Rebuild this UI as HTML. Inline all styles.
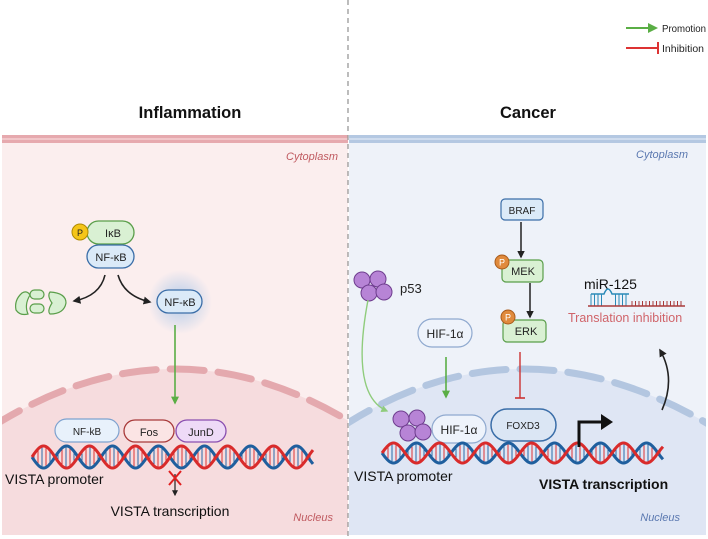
<!DOCTYPE html>
<html><head><meta charset="utf-8"><style>
html,body{margin:0;padding:0;background:#fff}
svg{display:block}
text{font-family:"Liberation Sans",sans-serif}
</style></head><body>
<svg id="s" width="708" height="539" viewBox="0 0 708 539" xmlns="http://www.w3.org/2000/svg">
<defs>
<marker id="ag" viewBox="0 0 10 10" refX="8" refY="5" markerWidth="5" markerHeight="5" orient="auto"><path d="M0,0L10,5L0,10z" fill="#5aae45"/></marker>
<marker id="agl" viewBox="0 0 10 10" refX="8" refY="5" markerWidth="5" markerHeight="5" orient="auto"><path d="M0,0L10,5L0,10z" fill="#8fcc7c"/></marker>
<marker id="ak" viewBox="0 0 10 10" refX="8" refY="5" markerWidth="5" markerHeight="5" orient="auto"><path d="M0,0L10,5L0,10z" fill="#222"/></marker>
<radialGradient id="glow"><stop offset="0" stop-color="#a9c6e8" stop-opacity=".9"/><stop offset="1" stop-color="#a9c6e8" stop-opacity="0"/></radialGradient>
<clipPath id="cl"><rect x="2" y="135" width="346" height="400"/></clipPath>
<clipPath id="cr"><rect x="349" y="135" width="357" height="400"/></clipPath>
</defs>

<rect x="2" y="135" width="346" height="400" fill="#fbeeee"/>
<g clip-path="url(#cl)">
<path d="M-10,428 Q175,310 360,428 L360,540 L-10,540z" fill="#f6dcde"/>
<path d="M-10,428 Q175,310 360,428" fill="none" stroke="#e4a9ae" stroke-width="7" stroke-linecap="round" stroke-dasharray="34 14"/>
</g>
<rect x="2" y="135" width="346" height="8" fill="#e6a9ae"/>
<rect x="2" y="138" width="346" height="2" fill="#f1c6c9"/>

<rect x="349" y="135" width="357" height="400" fill="#eef2f9"/>
<g clip-path="url(#cr)">
<path d="M340,428 Q520,310 715,428 L715,540 L340,540z" fill="#dfe6f4"/>
<path d="M340,428 Q520,310 715,428" fill="none" stroke="#b3c6e0" stroke-width="7" stroke-linecap="round" stroke-dasharray="34 14"/>
</g>
<rect x="349" y="135" width="357" height="8" fill="#b4c8e2"/>
<rect x="349" y="138" width="357" height="2" fill="#cfdcee"/>

<line x1="348" y1="0" x2="348" y2="539" stroke="#999" stroke-width="1.3" stroke-dasharray="5 4"/>

<line x1="626" y1="28" x2="656" y2="28" stroke="#5aae45" stroke-width="2" marker-end="url(#ag)"/>
<text x="662" y="32" font-size="10.5" fill="#222" textLength="44" lengthAdjust="spacingAndGlyphs">Promotion</text>
<line x1="626" y1="48" x2="658" y2="48" stroke="#d33" stroke-width="2"/>
<line x1="658" y1="42" x2="658" y2="54" stroke="#d33" stroke-width="2"/>
<text x="662" y="52" font-size="10.5" fill="#222" textLength="42" lengthAdjust="spacingAndGlyphs">Inhibition</text>

<text x="190" y="118" font-size="16.5" font-weight="bold" text-anchor="middle" fill="#111">Inflammation</text>
<text x="528" y="118" font-size="16.5" font-weight="bold" text-anchor="middle" fill="#111">Cancer</text>

<text x="338" y="160" font-size="11" font-style="italic" text-anchor="end" fill="#c05a60">Cytoplasm</text>
<text x="333" y="521" font-size="11" font-style="italic" text-anchor="end" fill="#c05a60">Nucleus</text>
<text x="688" y="158" font-size="11" font-style="italic" text-anchor="end" fill="#5a78b0">Cytoplasm</text>
<text x="680" y="521" font-size="11" font-style="italic" text-anchor="end" fill="#5a78b0">Nucleus</text>

<rect x="87" y="221" width="47" height="23" rx="11.5" fill="#d9f0d3" stroke="#5a9e4a" stroke-width="1.3"/>
<text x="113" y="237" font-size="11" text-anchor="middle" fill="#222">IκB</text>
<circle cx="80" cy="232" r="8" fill="#f5c518" stroke="#b08a00"/>
<text x="80" y="236" font-size="9" text-anchor="middle" fill="#222">P</text>
<rect x="87" y="245" width="47" height="23" rx="11.5" fill="#dbeaf8" stroke="#3b6ea8" stroke-width="1.3"/>
<text x="111" y="261" font-size="11" text-anchor="middle" fill="#222">NF-κB</text>
<path d="M105,275 Q100,296 74,301" fill="none" stroke="#222" stroke-width="1.6" marker-end="url(#ak)"/>
<path d="M118,275 Q124,296 150,302" fill="none" stroke="#222" stroke-width="1.6" marker-end="url(#ak)"/>
<path d="M22,293 Q14,300 16,310 Q20,316 28,314 Q24,305 30,295 Q27,290 22,293z" fill="#d9f0d3" stroke="#5a9e4a" stroke-width="1.2"/>
<rect x="30" y="290" width="14" height="9" rx="4.5" fill="#d9f0d3" stroke="#5a9e4a" stroke-width="1.2"/>
<rect x="30" y="304" width="14" height="9" rx="4.5" fill="#d9f0d3" stroke="#5a9e4a" stroke-width="1.2"/>
<path d="M50,292 Q66,293 66,303 Q64,314 50,314 Q47,311 52,303 Q47,296 50,292z" fill="#d9f0d3" stroke="#5a9e4a" stroke-width="1.2"/>
<circle cx="180" cy="302" r="32" fill="url(#glow)"/>
<rect x="157" y="290" width="45" height="23" rx="11.5" fill="#dbeaf8" stroke="#3b6ea8" stroke-width="1.3"/>
<text x="180" y="306" font-size="11" text-anchor="middle" fill="#222">NF-κB</text>
<line x1="175" y1="325" x2="175" y2="403" stroke="#5aae45" stroke-width="1.6" marker-end="url(#ag)"/>
<rect x="55" y="419" width="64" height="23" rx="11.5" fill="#e8f1fb" stroke="#7ea2cf" stroke-width="1.2"/>
<text x="87" y="435" font-size="10" text-anchor="middle" fill="#222">NF-kB</text>
<rect x="124" y="420" width="50" height="22" rx="11" fill="#fbe4e4" stroke="#a83a3a" stroke-width="1.3"/>
<text x="149" y="436" font-size="11" text-anchor="middle" fill="#222">Fos</text>
<rect x="176" y="420" width="50" height="22" rx="11" fill="#eedaf7" stroke="#8a4fb0" stroke-width="1.3"/>
<text x="201" y="436" font-size="11" text-anchor="middle" fill="#222">JunD</text>
<g id="dnaL"></g>
<text x="5" y="484" font-size="14" fill="#111">VISTA promoter</text>
<line x1="175" y1="474" x2="175" y2="495" stroke="#222" stroke-width="1.2" marker-end="url(#ak)"/>
<path d="M169,471L181,485M181,471L169,485" stroke="#e02020" stroke-width="2"/>
<text x="170" y="516" font-size="14" text-anchor="middle" fill="#111">VISTA transcription</text>

<rect x="501" y="199" width="42" height="21" rx="4" fill="#dbeaf8" stroke="#3b6ea8" stroke-width="1.2"/>
<text x="522" y="214" font-size="10" text-anchor="middle" fill="#222">BRAF</text>
<line x1="521" y1="222" x2="521" y2="257" stroke="#222" stroke-width="1.5" marker-end="url(#ak)"/>
<rect x="502" y="260" width="41" height="22" rx="4" fill="#d9f0d3" stroke="#5a9e4a" stroke-width="1.2"/>
<text x="523" y="275" font-size="11" text-anchor="middle" fill="#222">MEK</text>
<circle cx="502" cy="262" r="7" fill="#e08a3c" stroke="#a85a1a"/>
<text x="502" y="265.5" font-size="9" text-anchor="middle" fill="#fff">P</text>
<line x1="530" y1="283" x2="530" y2="317" stroke="#222" stroke-width="1.5" marker-end="url(#ak)"/>
<rect x="503" y="320" width="43" height="22" rx="4" fill="#d9f0d3" stroke="#5a9e4a" stroke-width="1.2"/>
<text x="526" y="335" font-size="11" text-anchor="middle" fill="#222">ERK</text>
<circle cx="508" cy="317" r="7" fill="#e08a3c" stroke="#a85a1a"/>
<text x="508" y="320.5" font-size="9" text-anchor="middle" fill="#fff">P</text>
<line x1="520" y1="352" x2="520" y2="398" stroke="#c33" stroke-width="1.4"/>
<line x1="515" y1="398" x2="525" y2="398" stroke="#c33" stroke-width="1.6"/>

<g fill="#b784d6" stroke="#6e3d8e" stroke-width="1">
<circle cx="362" cy="280" r="8"/><circle cx="378" cy="279" r="8"/><circle cx="369" cy="293" r="8"/><circle cx="384" cy="292" r="8"/>
</g>
<text x="400" y="293" font-size="13" fill="#222">p53</text>
<path d="M368,300 Q350,395 387,411" fill="none" stroke="#8fcc7c" stroke-width="1.4" marker-end="url(#agl)"/>
<rect x="418" y="319" width="54" height="28" rx="14" fill="#eef3fb" stroke="#8fa9cf" stroke-width="1.2"/>
<text x="445" y="338" font-size="12" text-anchor="middle" fill="#222">HIF-1α</text>
<line x1="446" y1="357" x2="446" y2="397" stroke="#5aae45" stroke-width="1.6" marker-end="url(#ag)"/>
<g fill="#b784d6" stroke="#6e3d8e" stroke-width="1">
<circle cx="401" cy="419" r="8"/><circle cx="417" cy="418" r="8"/><circle cx="408" cy="433" r="8"/><circle cx="423" cy="432" r="8"/>
</g>
<rect x="432" y="415" width="54" height="28" rx="14" fill="#eef3fb" stroke="#8fa9cf" stroke-width="1.2"/>
<text x="459" y="434" font-size="12" text-anchor="middle" fill="#222">HIF-1α</text>
<rect x="491" y="409" width="65" height="32" rx="16" fill="#dbe6f4" stroke="#3b6ea8" stroke-width="1.5"/>
<text x="523" y="429" font-size="10" text-anchor="middle" fill="#222">FOXD3</text>
<g id="dnaR"></g>
<path d="M579,447 L579,422 L603,422" fill="none" stroke="#111" stroke-width="3"/>
<path d="M601,414 L613,422 L601,430z" fill="#111"/>
<text x="354" y="481" font-size="14" fill="#111">VISTA promoter</text>
<text x="539" y="489" font-size="14" font-weight="bold" fill="#111">VISTA transcription</text>
<path d="M662,410 Q676,378 660,350" fill="none" stroke="#222" stroke-width="1.6" marker-end="url(#ak)"/>

<text x="584" y="289" font-size="14" fill="#111">miR-125</text>
<g id="rna"></g>
<line x1="588" y1="306" x2="685" y2="306" stroke="#a83a3a" stroke-width="1.6"/>
<text x="568" y="322" font-size="12.5" fill="#d0646a">Translation inhibition</text>
</svg>
<script>
var NS="http://www.w3.org/2000/svg";
function dna(g,x0,x1,yc,amp){
  var el=document.getElementById(g),per=46,i=0;
  for(var x=x0+2;x<=x1;x+=4){
    var a=Math.sin((x-x0)/per*2*Math.PI)*amp;
    var l=document.createElementNS(NS,"line");
    l.setAttribute("x1",x);l.setAttribute("x2",x);l.setAttribute("y1",yc+a);l.setAttribute("y2",yc-a);
    l.setAttribute("stroke",(i++%2)?"#d33":"#2a6aa8");l.setAttribute("stroke-width","1");
    el.appendChild(l);
  }
  ["#1f5f9e","#d92b2b"].forEach(function(c,k){
    var d="";for(var x=x0;x<=x1;x+=1){var y=yc+(k?-1:1)*Math.sin((x-x0)/per*2*Math.PI)*amp;d+=(x==x0?"M":"L")+x+","+y.toFixed(1);}
    var p=document.createElementNS(NS,"path");p.setAttribute("d",d);p.setAttribute("fill","none");p.setAttribute("stroke",c);p.setAttribute("stroke-width","3");el.appendChild(p);
  });
}
dna("dnaL",32,313,457,11);
dna("dnaR",382,663,453,10);
var r=document.getElementById("rna");
var h='<path d="M591,294 L604,294 Q608,284 612,294 L629,294" fill="none" stroke="#2a8ab8" stroke-width="1.5"/>';
for(var x=591;x<=629;x+=3.5){ if(x>603&&x<613)continue; h+='<line x1="'+x+'" y1="294" x2="'+x+'" y2="306" stroke="#2a8ab8" stroke-width="1"/>';}
for(var x=632;x<=684;x+=3.5){ h+='<line x1="'+x+'" y1="301" x2="'+x+'" y2="306" stroke="#a83a3a" stroke-width="1"/>';}
r.innerHTML=h;
</script>
</body></html>
